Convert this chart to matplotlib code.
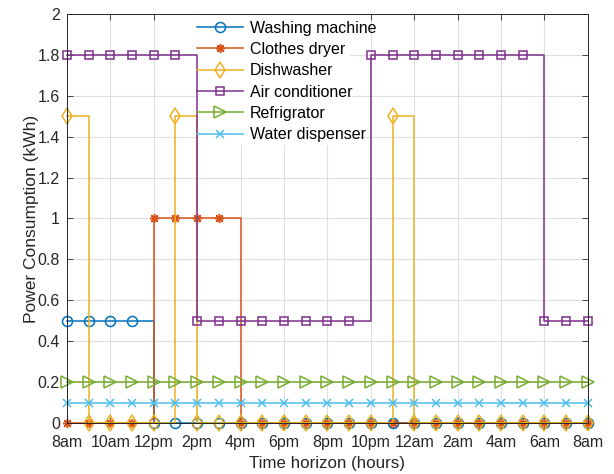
import matplotlib
matplotlib.use("Agg")
import matplotlib.pyplot as plt
from matplotlib.patches import Rectangle
import numpy as np

plt.rcParams['font.family'] = ['Liberation Sans', 'DejaVu Sans']

hours = list(range(25))
tick_labels = ['8am', '10am', '12pm', '2pm', '4pm', '6pm', '8pm', '10pm',
               '12am', '2am', '4am', '6am', '8am']
ytick_labels = ['0', '0.2', '0.4', '0.6', '0.8', '1', '1.2', '1.4', '1.6', '1.8', '2']

washing = [0.5, 0.5, 0.5, 0.5] + [0] * 21
dryer = [0, 0, 0, 0, 1, 1, 1, 1] + [0] * 17
dishwasher = [1.5, 0, 0, 0, 0, 1.5, 0, 0, 0, 0, 0, 0, 0, 0, 0, 1.5,
              0, 0, 0, 0, 0, 0, 0, 0, 0]
aircon = [1.8] * 6 + [0.5] * 8 + [1.8] * 8 + [0.5] * 3
fridge = [0.2] * 25
water = [0.1] * 25

series = [
    ("Washing machine", washing, '#0072BD', 'o', 7.2),
    ("Clothes dryer", dryer, '#D95319', (8, 2, 0), 6.5),
    ("Dishwasher", dishwasher, '#EDB120', 'd', 8),
    ("Air conditioner", aircon, '#7E2F8E', 's', 5.6),
    ("Refrigrator", fridge, '#77AC30', '>', 8),
    ("Water dispenser", water, '#4DBEEE', 'x', 5.2),
]

fig = plt.figure(figsize=(6.14, 4.74), dpi=100)
ax = fig.add_axes([0.109, 0.1076, 0.8485, 0.8629])

for label, vals, color, marker, ms in series:
    ax.step(hours, vals, where='post', color=color, lw=1.1, marker=marker,
            ms=ms, mfc='none', mec=color, mew=1.1, label=label, clip_on=False,
            zorder=2)

ax.set_xlim(0, 24)
ax.set_ylim(0, 2)
ax.set_xticks(range(0, 25, 2))
ax.set_xticklabels(tick_labels)
ax.set_yticks(np.arange(0, 2.01, 0.2))
ax.set_yticklabels(ytick_labels)
ax.tick_params(direction='in', top=True, right=True, labelsize=11.5,
               colors='#262626', length=4, width=0.6)
ax.tick_params(axis='x', pad=9)
ax.tick_params(axis='y', pad=5)
for sp in ax.spines.values():
    sp.set_color('#262626')
    sp.set_linewidth(0.7)
ax.grid(True, color='#dfdfdf', lw=0.8)
ax.set_axisbelow(True)

ax.set_xlabel('Time horizon (hours)', fontsize=12.2, color='#262626', labelpad=4)
ax.set_ylabel('Power Consumption (kWh)', fontsize=12.5, color='#262626', labelpad=-1)

# opaque legend background area (as in the reference), below the lines
ax.add_patch(Rectangle((0.2495, 0.68), 0.294, 0.32, transform=ax.transAxes,
                       facecolor='white', edgecolor='none', zorder=1))

leg = ax.legend(loc='upper left', bbox_to_anchor=(0.2495, 0.984), fontsize=11.5,
                frameon=False, borderpad=0, labelspacing=0.4,
                handlelength=2.9, handletextpad=0.4, borderaxespad=0)

fig.savefig('out.png', dpi=100)
